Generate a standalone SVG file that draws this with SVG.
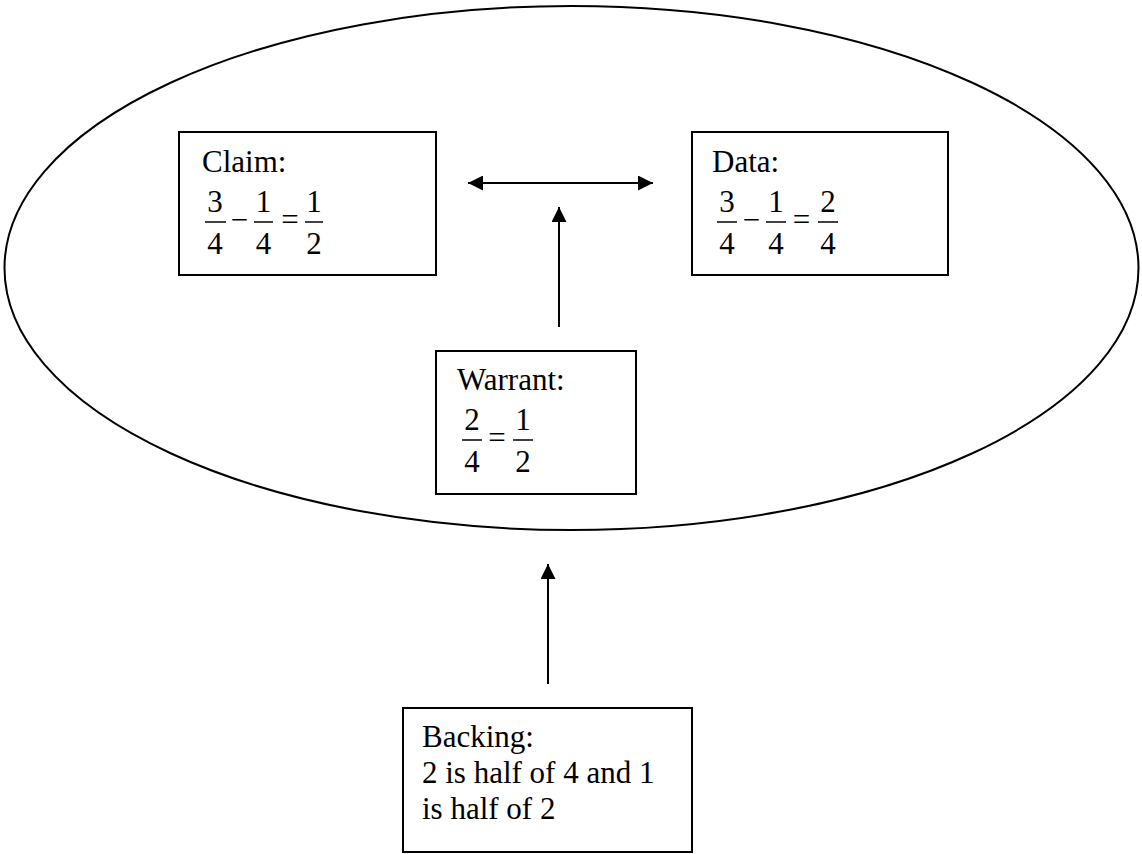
<svg xmlns="http://www.w3.org/2000/svg" width="1142" height="854" viewBox="0 0 1142 854">
<style>
.box{fill:#fff;stroke:#000;stroke-width:2}
.t{font-family:'Liberation Serif','Tinos','Times New Roman','DejaVu Serif',serif;font-size:31px;fill:#000}
.m{font-family:'Liberation Serif','Tinos','Times New Roman','DejaVu Serif',serif;font-size:31px;fill:#000;text-anchor:middle}
.bar{stroke:#000;stroke-width:1.5}
.conn{stroke:#000;stroke-width:2;fill:none}
</style>
<defs>
<marker id="ah" viewBox="0 0 15 15" refX="15" refY="7.5" markerWidth="15" markerHeight="15" markerUnits="userSpaceOnUse" orient="auto-start-reverse">
<path d="M0,0 L15,7.5 L0,15 Z" fill="#000"/>
</marker>
</defs>
<g id="scope">
<ellipse cx="571.5" cy="268" rx="567" ry="262" fill="none" stroke="#000" stroke-width="2"/>
</g>
<g id="connectors">
<line class="conn" x1="468" y1="183" x2="653" y2="183" marker-start="url(#ah)" marker-end="url(#ah)"/>
<line class="conn" x1="559" y1="327" x2="559" y2="207" marker-end="url(#ah)"/>
<line class="conn" x1="548" y1="684" x2="548" y2="564" marker-end="url(#ah)"/>
</g>
<g id="claim">
<rect class="box" x="179" y="132" width="257" height="143"/>
<text class="t" x="202" y="172">Claim:</text>
<text class="m" x="215" y="212">3</text><line class="bar" x1="205" y1="222" x2="226" y2="222"/><text class="m" x="215" y="254">4</text>
<text class="m" x="239.5" y="230">−</text>
<text class="m" x="263.5" y="212">1</text><line class="bar" x1="254" y1="222" x2="273" y2="222"/><text class="m" x="263.5" y="254">4</text>
<text class="m" x="290" y="230">=</text>
<text class="m" x="314" y="212">1</text><line class="bar" x1="305" y1="222" x2="323" y2="222"/><text class="m" x="314" y="254">2</text>
</g>
<g id="data">
<rect class="box" x="692" y="132" width="256" height="143"/>
<text class="t" x="712" y="172">Data:</text>
<text class="m" x="727" y="212">3</text><line class="bar" x1="717" y1="222" x2="737" y2="222"/><text class="m" x="727" y="254">4</text>
<text class="m" x="751.5" y="230">−</text>
<text class="m" x="776" y="212">1</text><line class="bar" x1="766" y1="222" x2="786" y2="222"/><text class="m" x="776" y="254">4</text>
<text class="m" x="801.5" y="230">=</text>
<text class="m" x="828" y="212">2</text><line class="bar" x1="818" y1="222" x2="838" y2="222"/><text class="m" x="828" y="254">4</text>
</g>
<g id="warrant">
<rect class="box" x="436" y="351" width="200" height="143"/>
<text class="t" x="457" y="390">Warrant:</text>
<text class="m" x="472" y="430">2</text><line class="bar" x1="462" y1="440" x2="482" y2="440"/><text class="m" x="472" y="472">4</text>
<text class="m" x="497" y="448">=</text>
<text class="m" x="523" y="430">1</text><line class="bar" x1="513" y1="440" x2="533" y2="440"/><text class="m" x="523" y="472">2</text>
</g>
<g id="backing">
<rect class="box" x="403" y="708" width="289" height="144"/>
<text class="t" x="422" y="747">Backing:</text>
<text class="t" x="422" y="783">2 is half of 4 and 1</text>
<text class="t" x="422" y="819">is half of 2</text>
</g>
</svg>
